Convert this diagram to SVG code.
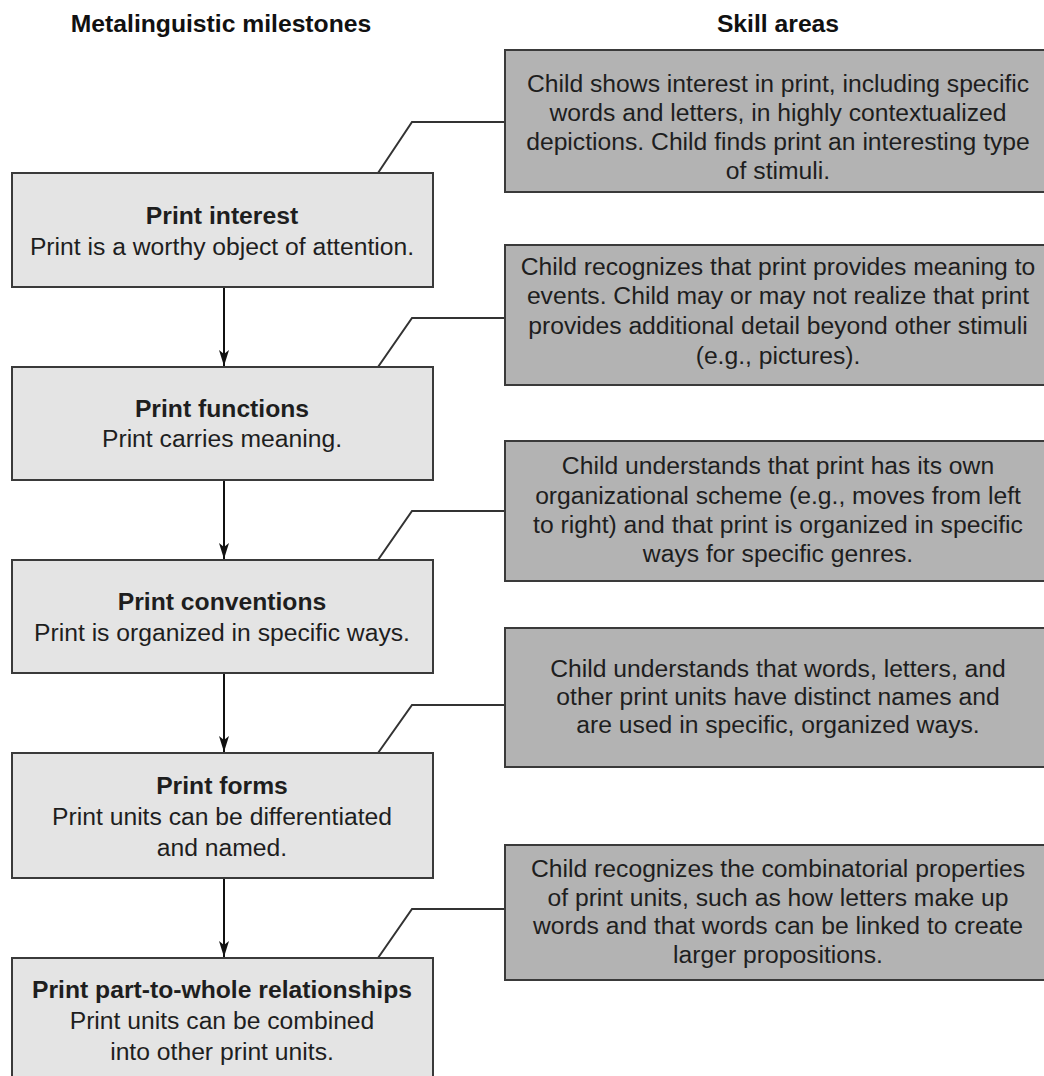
<svg xmlns="http://www.w3.org/2000/svg" width="1044" height="1076" viewBox="0 0 1044 1076">
<defs>
<style>
text{font-family:"Liberation Sans",Arial,Helvetica,sans-serif;font-size:24.7px;fill:#1e1e1e;text-anchor:middle}
.h{font-weight:bold;fill:#111}
.t{font-weight:bold}
.lb{fill:#e4e4e4;stroke:#3a3a3a;stroke-width:2}
.rb{fill:#b3b3b3;stroke:#3a3a3a;stroke-width:2}
.c{fill:none;stroke:#333;stroke-width:2}
.a{fill:none;stroke:#111;stroke-width:2}
</style>
<marker id="ah" viewBox="0 0 16 10" refX="16" refY="5" markerWidth="16" markerHeight="10" markerUnits="userSpaceOnUse" orient="auto">
<path d="M0,0 L4,5 L0,10 L16,5 Z" fill="#111"/>
</marker>
</defs>
<rect width="1044" height="1076" fill="#fff"/>
<g id="headers">
<text class="h" x="221" y="32">Metalinguistic milestones</text>
<text class="h" x="778" y="32">Skill areas</text>
</g>
<g id="connectors">
<line class="a" x1="224" y1="287" x2="224" y2="366" marker-end="url(#ah)"/>
<line class="a" x1="224" y1="480" x2="224" y2="559" marker-end="url(#ah)"/>
<line class="a" x1="224" y1="673" x2="224" y2="752" marker-end="url(#ah)"/>
<line class="a" x1="224" y1="878" x2="224" y2="957" marker-end="url(#ah)"/>
<polyline class="c" points="378,173 412,122 505,122"/>
<polyline class="c" points="378,367 412,318 505,318"/>
<polyline class="c" points="378,560 412,511 505,511"/>
<polyline class="c" points="378,753 412,705 505,705"/>
<polyline class="c" points="378,958 412,909 505,909"/>
</g>
<g id="m1">
<rect class="lb" x="12" y="173" width="421" height="114"/>
<text class="t" x="222" y="224">Print interest</text>
<text x="222" y="255">Print is a worthy object of attention.</text>
</g>
<g id="m2">
<rect class="lb" x="12" y="367" width="421" height="113"/>
<text class="t" x="222" y="417">Print functions</text>
<text x="222" y="447">Print carries meaning.</text>
</g>
<g id="m3">
<rect class="lb" x="12" y="560" width="421" height="113"/>
<text class="t" x="222" y="610">Print conventions</text>
<text x="222" y="641">Print is organized in specific ways.</text>
</g>
<g id="m4">
<rect class="lb" x="12" y="753" width="421" height="125"/>
<text class="t" x="222" y="794">Print forms</text>
<text x="222" y="825">Print units can be differentiated</text>
<text x="222" y="856">and named.</text>
</g>
<g id="m5">
<rect class="lb" x="12" y="958" width="421" height="130"/>
<text class="t" x="222" y="998">Print part-to-whole relationships</text>
<text x="222" y="1029">Print units can be combined</text>
<text x="222" y="1060">into other print units.</text>
</g>
<g id="s1">
<rect class="rb" x="505" y="50" width="550" height="142"/>
<text x="778" y="92">Child shows interest in print, including specific</text>
<text x="778" y="121">words and letters, in highly contextualized</text>
<text x="778" y="150">depictions. Child finds print an interesting type</text>
<text x="778" y="179">of stimuli.</text>
</g>
<g id="s2">
<rect class="rb" x="505" y="245" width="550" height="140"/>
<text x="778" y="275">Child recognizes that print provides meaning to</text>
<text x="778" y="304">events. Child may or may not realize that print</text>
<text x="778" y="334">provides additional detail beyond other stimuli</text>
<text x="778" y="364">(e.g., pictures).</text>
</g>
<g id="s3">
<rect class="rb" x="505" y="441" width="550" height="140"/>
<text x="778" y="474">Child understands that print has its own</text>
<text x="778" y="504">organizational scheme (e.g., moves from left</text>
<text x="778" y="533">to right) and that print is organized in specific</text>
<text x="778" y="562">ways for specific genres.</text>
</g>
<g id="s4">
<rect class="rb" x="505" y="628" width="550" height="139"/>
<text x="778" y="677">Child understands that words, letters, and</text>
<text x="778" y="705">other print units have distinct names and</text>
<text x="778" y="733">are used in specific, organized ways.</text>
</g>
<g id="s5">
<rect class="rb" x="505" y="845" width="550" height="135"/>
<text x="778" y="877">Child recognizes the combinatorial properties</text>
<text x="778" y="906">of print units, such as how letters make up</text>
<text x="778" y="934">words and that words can be linked to create</text>
<text x="778" y="963">larger propositions.</text>
</g>
</svg>
